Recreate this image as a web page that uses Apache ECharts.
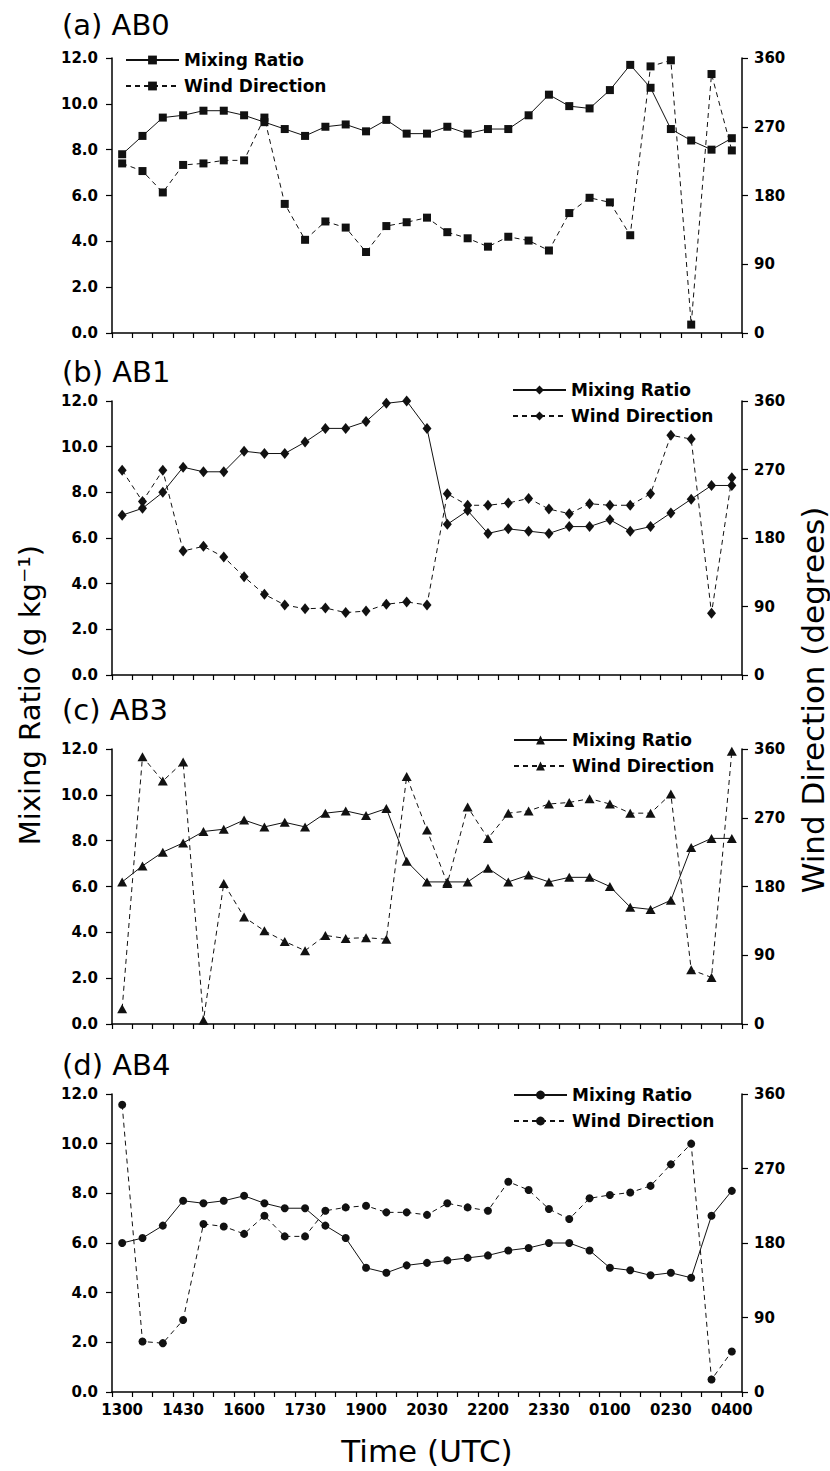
<!DOCTYPE html>
<html>
<head>
<meta charset="utf-8">
<title>Mixing ratio and wind direction</title>
<script src="https://cdn.jsdelivr.net/npm/echarts@6/dist/echarts.min.js"></script>
<style>
  html, body { margin: 0; padding: 0; background: #fff; }
  #chart { width: 830px; height: 1471px; }
</style>
</head>
<body>
<div id="chart"></div>
<script>
// time of day (UTC), every 30 min
const times = ['1300','1330','1400','1430','1500','1530','1600','1630','1700','1730','1800','1830',
  '1900','1930','2000','2030','2100','2130','2200','2230','2300','2330','0000','0030',
  '0100','0130','0200','0230','0300','0330','0400'];

// (a) AB0
const ab0Mixing = [7.8,8.6,9.4,9.5,9.7,9.7,9.5,9.2,8.9,8.6,9.0,9.1,8.8,9.3,8.7,8.7,
  9.0,8.7,8.9,8.9,9.5,10.4,9.9,9.8,10.6,11.7,10.7,8.9,8.4,8.0,8.5];
const ab0Wind = [222,212,184,220,222,226,226,282,169,122,146,138,106,140,145,151,
  132,124,113,126,121,108,157,177,171,128,349,357,11,339,239];

// (b) AB1
const ab1Mixing = [7.0,7.3,8.0,9.1,8.9,8.9,9.8,9.7,9.7,10.2,10.8,10.8,11.1,11.9,12.0,10.8,
  6.6,7.2,6.2,6.4,6.3,6.2,6.5,6.5,6.8,6.3,6.5,7.1,7.7,8.3,8.3];
const ab1Wind = [269,228,269,163,169,155,129,106,92,87,88,82,84,93,96,92,
  238,223,223,226,232,218,212,225,223,223,238,315,310,81,259];

// (c) AB3
const ab3Mixing = [6.2,6.9,7.5,7.9,8.4,8.5,8.9,8.6,8.8,8.6,9.2,9.3,9.1,9.4,7.1,6.2,
  6.2,6.2,6.8,6.2,6.5,6.2,6.4,6.4,6.0,5.1,5.0,5.4,7.7,8.1,8.1];
const ab3Wind = [20,350,318,343,5,184,140,122,108,96,116,112,113,111,324,254,
  184,284,243,276,279,288,290,295,288,276,276,301,71,61,357];

// (d) AB4
const ab4Mixing = [6.0,6.2,6.7,7.7,7.6,7.7,7.9,7.6,7.4,7.4,6.7,6.2,5.0,4.8,5.1,5.2,
  5.3,5.4,5.5,5.7,5.8,6.0,6.0,5.7,5.0,4.9,4.7,4.8,4.6,7.1,8.1];
const ab4Wind = [347,61,59,87,203,200,191,213,188,188,219,223,225,217,217,214,
  228,223,219,254,244,221,209,234,238,241,249,275,300,15,49];

const mixingTicks = { min: 0, max: 12, interval: 2 };
const windTicks = { min: 0, max: 360, interval: 90 };

// layout of the four panels
const panels = [
  { key: 'a', title: '(a) AB0', mr: ab0Mixing, wd: ab0Wind, symbol: 'rect', size: 8,
    top: 58, height: 275, titleY: 25, legendLeft: 125, legendTop: 50 },
  { key: 'b', title: '(b) AB1', mr: ab1Mixing, wd: ab1Wind, symbol: 'diamond', size: [9, 11],
    top: 401, height: 274, titleY: 372, legendLeft: 512, legendTop: 380 },
  { key: 'c', title: '(c) AB3', mr: ab3Mixing, wd: ab3Wind, symbol: 'triangle', size: [10, 9],
    top: 749, height: 275, titleY: 710, legendLeft: 513, legendTop: 730 },
  { key: 'd', title: '(d) AB4', mr: ab4Mixing, wd: ab4Wind, symbol: 'circle', size: 8,
    top: 1094, height: 298, titleY: 1065, legendLeft: 513, legendTop: 1085 }
];

const tickFont = { fontFamily: 'DejaVu Sans', fontWeight: 'bold', fontSize: 15, color: '#000' };
const axisLine = { show: true, lineStyle: { color: '#000', width: 1.5 } };

const grid = [], xAxis = [], yAxis = [], series = [], legend = [], graphic = [];

panels.forEach((p, i) => {
  const last = i === panels.length - 1;
  grid.push({ left: 112, right: 88, top: p.top, height: p.height });
  xAxis.push({
    type: 'category', gridIndex: i, data: times, boundaryGap: true,
    axisLine: axisLine,
    axisTick: { show: true, interval: 0, length: 5, lineStyle: { color: '#000', width: 1.2 } },
    axisLabel: Object.assign({ show: last, interval: 2, margin: 10 }, tickFont),
    splitLine: { show: false }
  });
  yAxis.push(Object.assign({
    type: 'value', gridIndex: i, position: 'left',
    axisLine: axisLine,
    axisTick: { show: true, length: 6, lineStyle: { color: '#000', width: 1.2 } },
    axisLabel: Object.assign({ margin: 14, formatter: v => v.toFixed(1) }, tickFont),
    splitLine: { show: false }
  }, mixingTicks));
  yAxis.push(Object.assign({
    type: 'value', gridIndex: i, position: 'right',
    axisLine: axisLine,
    axisTick: { show: true, length: 6, lineStyle: { color: '#000', width: 1.2 } },
    axisLabel: Object.assign({ margin: 12 }, tickFont),
    splitLine: { show: false }
  }, windTicks));

  const mrName = 'Mixing Ratio|' + p.key;
  const wdName = 'Wind Direction|' + p.key;
  series.push({
    name: mrName, type: 'line', xAxisIndex: i, yAxisIndex: 2 * i, data: p.mr,
    symbol: p.symbol, symbolSize: p.size, showAllSymbol: true,
    lineStyle: { color: '#111', width: 1 },
    itemStyle: { color: '#111' }
  });
  series.push({
    name: wdName, type: 'line', xAxisIndex: i, yAxisIndex: 2 * i + 1, data: p.wd,
    symbol: p.symbol, symbolSize: p.size, showAllSymbol: true,
    lineStyle: { color: '#111', width: 1, type: [5, 4] },
    itemStyle: { color: '#111' }
  });

  legend.push({
    left: p.legendLeft, top: p.legendTop, orient: 'vertical', padding: 0,
    itemWidth: 53, itemHeight: 11, itemGap: 6, selectedMode: false,
    data: [mrName, wdName],
    formatter: name => name.split('|')[0],
    textStyle: { fontFamily: 'DejaVu Sans', fontWeight: 'bold', fontSize: 17, color: '#000', lineHeight: 20 }
  });

  graphic.push({
    type: 'text', x: 62, y: p.titleY,
    style: { text: p.title, fill: '#000', font: '29px "DejaVu Sans"', align: 'left', verticalAlign: 'middle' }
  });
});

graphic.push({
  type: 'text', x: 30, y: 695, rotation: Math.PI / 2,
  style: { text: 'Mixing Ratio (g kg\u207B\u00B9)', fill: '#000', font: '29px "DejaVu Sans"', align: 'center', verticalAlign: 'middle' }
});
graphic.push({
  type: 'text', x: 813, y: 700, rotation: Math.PI / 2,
  style: { text: 'Wind Direction (degrees)', fill: '#000', font: '31px "DejaVu Sans"', align: 'center', verticalAlign: 'middle' }
});
graphic.push({
  type: 'text', x: 427, y: 1451,
  style: { text: 'Time (UTC)', fill: '#000', font: '31px "DejaVu Sans"', align: 'center', verticalAlign: 'middle' }
});

const option = {
  animation: false,
  backgroundColor: '#fff',
  grid: grid,
  xAxis: xAxis,
  yAxis: yAxis,
  legend: legend,
  series: series,
  graphic: graphic
};

const chart = echarts.init(document.getElementById('chart'), null, { renderer: 'svg' });
chart.setOption(option);
</script>
</body>
</html>
